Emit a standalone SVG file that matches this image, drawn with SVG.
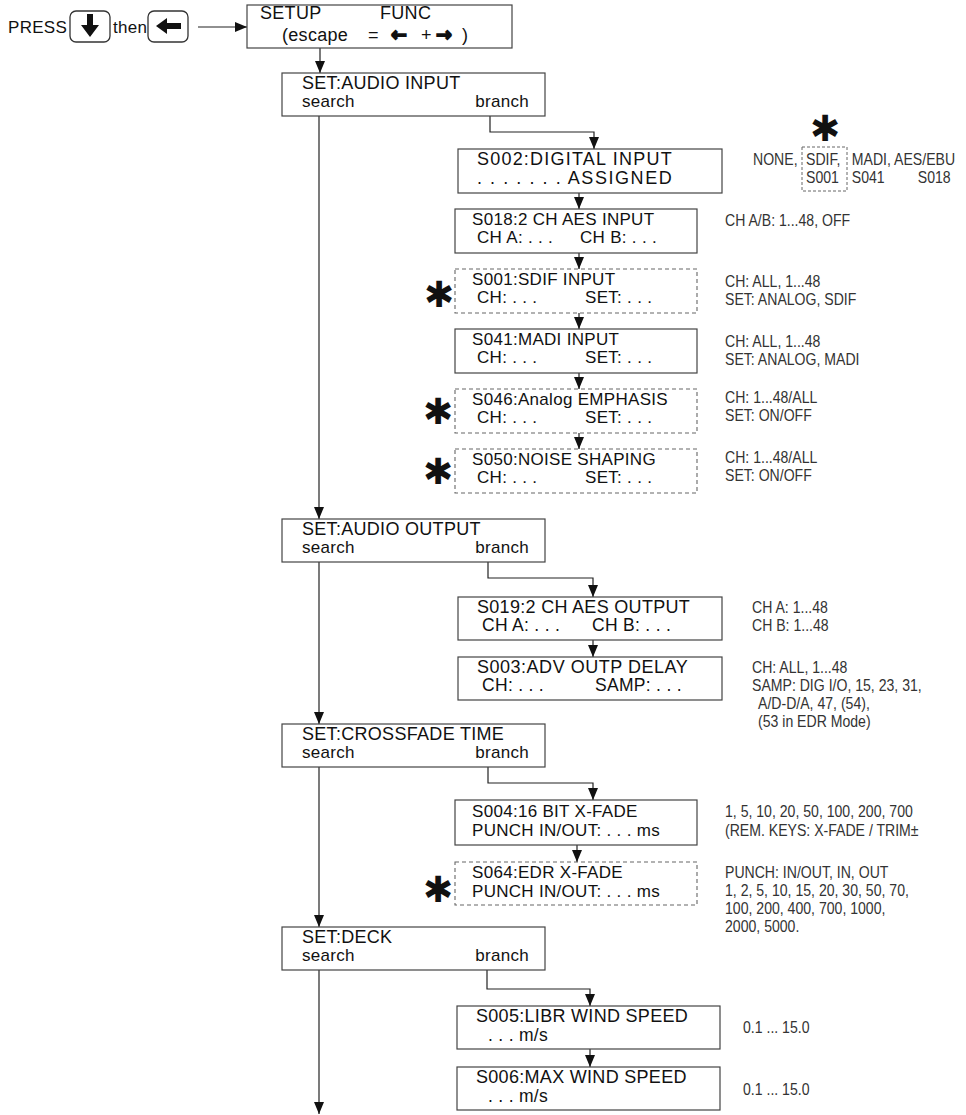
<svg xmlns="http://www.w3.org/2000/svg" width="966" height="1115" viewBox="0 0 966 1115">
<defs>
<marker id="ah" viewBox="0 0 12 10" refX="12" refY="5" markerWidth="12" markerHeight="10" orient="auto" markerUnits="userSpaceOnUse"><path d="M0,0 L12,5 L0,10 z" fill="#111"/></marker>
<style>
.box{fill:#fff;stroke:#444;stroke-width:1.2}
.dbox{fill:#fff;stroke:#666;stroke-width:1.1;stroke-dasharray:4 3}
.key{fill:#fff;stroke:#333;stroke-width:1.3}
.t{font-family:"Liberation Sans",Arial,sans-serif;font-size:17px;letter-spacing:0.3px;fill:#111}
.tw{font-family:"Liberation Sans",Arial,sans-serif;font-size:18px;letter-spacing:0.3px;fill:#111}
.t2{font-family:"Liberation Sans",Arial,sans-serif;font-size:17.5px;letter-spacing:0.3px;fill:#111}
.n{font-family:"Liberation Sans",Arial,sans-serif;font-size:16px;fill:#333}
.ast{font-family:"DejaVu Sans",sans-serif;font-size:36px;font-weight:bold;fill:#111}
.arw{font-family:"DejaVu Sans",sans-serif;font-size:19px;font-weight:bold;stroke:#111;stroke-width:1.6}
.ca{fill:none;stroke:#222;stroke-width:1.2;marker-end:url(#ah)}
</style>
</defs>
<rect width="966" height="1115" fill="#fff"/>

<g id="press">
<text class="t" x="8" y="33">PRESS</text>
<rect class="key" x="70" y="11" width="40" height="31" rx="6"/>
<polygon points="87,14 93,14 93,25 99,25 90,37 81,25 87,25" fill="#111"/>
<text class="t" x="113" y="33">then</text>
<rect class="key" x="148" y="11" width="40" height="31" rx="6"/>
<polygon points="156,26 167,18 167,23 181,23 181,29 167,29 167,34" fill="#111"/>
</g>

<g id="connectors">
<path class="ca" d="M198,27 H247"/>
<path class="ca" d="M320,48 V73"/>
<path class="ca" d="M319,116 V519"/>
<path class="ca" d="M319,562 V724"/>
<path class="ca" d="M319,767 V927"/>
<path class="ca" d="M319,970 V1114"/>
<path class="ca" d="M490,116 V132 H594 V149"/>
<path class="ca" d="M579,193 V209"/>
<path class="ca" d="M579,253 V269"/>
<path class="ca" d="M579,313 V329"/>
<path class="ca" d="M579,373 V389"/>
<path class="ca" d="M579,433 V449"/>
<path class="ca" d="M488,562 V578 H593 V597"/>
<path class="ca" d="M593,640 V657"/>
<path class="ca" d="M488,767 V783 H593 V800"/>
<path class="ca" d="M577,845 V862"/>
<path class="ca" d="M487,970 V989 H590 V1006"/>
<path class="ca" d="M590,1049 V1067"/>
</g>

<g id="setup">
<rect class="box" x="247" y="5" width="265" height="43"/>
<text class="tw" x="260" y="19">SETUP</text>
<text class="tw" x="380" y="19">FUNC</text>
<text class="tw" y="41"><tspan x="282">(escape</tspan><tspan x="368">=</tspan><tspan class="arw" x="391">←</tspan><tspan x="421">+</tspan><tspan class="arw" x="436">→</tspan><tspan x="462">)</tspan></text>
</g>

<g id="set-audio-input">
<rect class="box" x="282" y="73" width="263" height="43"/>
<text class="tw" x="302" y="89">SET:AUDIO INPUT</text>
<text class="t" x="302" y="107">search</text>
<text class="t" x="529" y="107" text-anchor="end">branch</text>
</g>

<g id="s002">
<rect class="box" x="458" y="149" width="264" height="44"/>
<text class="tw" x="477" y="165" textLength="195" lengthAdjust="spacing">S002:DIGITAL INPUT</text>
<text class="tw" x="477" y="184" textLength="195" lengthAdjust="spacing">. . . . . . .  ASSIGNED</text>
<text class="ast" x="825" y="141" text-anchor="middle">✱</text>
<rect x="802" y="147" width="45" height="44" fill="none" stroke="#666" stroke-width="1" stroke-dasharray="3 2"/>
<g class="n" transform="scale(0.88,1)">
<text x="855.7" y="165">NONE,</text>
<text x="916" y="165">SDIF,</text>
<text x="968" y="165">MADI, AES/EBU</text>
<text x="916" y="183">S001</text>
<text x="968" y="183">S041</text>
<text x="1043" y="183">S018</text>
</g>
</g>

<g id="s018">
<rect class="box" x="455" y="209" width="242" height="44"/>
<text class="t" x="472" y="225">S018:2 CH AES INPUT</text>
<text class="t" x="477" y="243">CH A: . . .</text>
<text class="t" x="580" y="243">CH B: . . .</text>
<text class="n" transform="translate(725,226) scale(0.88,1)">CH A/B: 1...48, OFF</text>
</g>

<g id="s001">
<rect class="dbox" x="455" y="269" width="242" height="44"/>
<text class="ast" x="439" y="307" text-anchor="middle">✱</text>
<text class="t" x="472" y="285">S001:SDIF INPUT</text>
<text class="t" x="477" y="303">CH: . . .</text>
<text class="t" x="585" y="303">SET: . . .</text>
<text class="n" transform="translate(725,287) scale(0.88,1)">CH: ALL, 1...48</text>
<text class="n" transform="translate(725,305) scale(0.88,1)">SET: ANALOG, SDIF</text>
</g>

<g id="s041">
<rect class="box" x="455" y="329" width="242" height="44"/>
<text class="t" x="472" y="345">S041:MADI INPUT</text>
<text class="t" x="477" y="363">CH: . . .</text>
<text class="t" x="585" y="363">SET: . . .</text>
<text class="n" transform="translate(725,347) scale(0.88,1)">CH: ALL, 1...48</text>
<text class="n" transform="translate(725,365) scale(0.88,1)">SET: ANALOG, MADI</text>
</g>

<g id="s046">
<rect class="dbox" x="455" y="389" width="242" height="44"/>
<text class="ast" x="438" y="424" text-anchor="middle">✱</text>
<text class="t" x="472" y="405">S046:Analog EMPHASIS</text>
<text class="t" x="477" y="423">CH: . . .</text>
<text class="t" x="585" y="423">SET: . . .</text>
<text class="n" transform="translate(725,403) scale(0.88,1)">CH: 1...48/ALL</text>
<text class="n" transform="translate(725,421) scale(0.88,1)">SET: ON/OFF</text>
</g>

<g id="s050">
<rect class="dbox" x="455" y="449" width="242" height="44"/>
<text class="ast" x="438" y="484" text-anchor="middle">✱</text>
<text class="t" x="472" y="465">S050:NOISE SHAPING</text>
<text class="t" x="477" y="483">CH: . . .</text>
<text class="t" x="585" y="483">SET: . . .</text>
<text class="n" transform="translate(725,463) scale(0.88,1)">CH: 1...48/ALL</text>
<text class="n" transform="translate(725,481) scale(0.88,1)">SET: ON/OFF</text>
</g>

<g id="set-audio-output">
<rect class="box" x="282" y="519" width="263" height="43"/>
<text class="tw" x="302" y="535">SET:AUDIO OUTPUT</text>
<text class="t" x="302" y="553">search</text>
<text class="t" x="529" y="553" text-anchor="end">branch</text>
</g>

<g id="s019">
<rect class="box" x="458" y="597" width="264" height="43"/>
<text class="tw" x="477" y="613">S019:2 CH AES OUTPUT</text>
<text class="t2" x="482" y="631">CH A: . . .</text>
<text class="t2" x="592" y="631">CH B: . . .</text>
<text class="n" transform="translate(752,613) scale(0.88,1)">CH A: 1...48</text>
<text class="n" transform="translate(752,631) scale(0.88,1)">CH B: 1...48</text>
</g>

<g id="s003">
<rect class="box" x="458" y="657" width="264" height="43"/>
<text class="tw" x="477" y="673" textLength="211" lengthAdjust="spacing">S003:ADV OUTP DELAY</text>
<text class="t2" x="482" y="691">CH: . . .</text>
<text class="t2" x="595" y="691">SAMP: . . .</text>
<text class="n" transform="translate(752,673) scale(0.88,1)">CH: ALL, 1...48</text>
<text class="n" transform="translate(752,691) scale(0.88,1)">SAMP: DIG I/O, 15, 23, 31,</text>
<text class="n" transform="translate(758,709) scale(0.88,1)">A/D-D/A, 47, (54),</text>
<text class="n" transform="translate(758,727) scale(0.88,1)">(53 in EDR Mode)</text>
</g>

<g id="set-crossfade">
<rect class="box" x="282" y="724" width="263" height="43"/>
<text class="tw" x="302" y="740">SET:CROSSFADE TIME</text>
<text class="t" x="302" y="758">search</text>
<text class="t" x="529" y="758" text-anchor="end">branch</text>
</g>

<g id="s004">
<rect class="box" x="455" y="800" width="242" height="45"/>
<text class="t" x="472" y="817">S004:16 BIT X-FADE</text>
<text class="t" x="472" y="836">PUNCH IN/OUT:  . . . ms</text>
<text class="n" transform="translate(725,817) scale(0.88,1)">1, 5, 10, 20, 50, 100, 200, 700</text>
<text class="n" transform="translate(725,836) scale(0.88,1)">(REM. KEYS: X-FADE / TRIM±</text>
</g>

<g id="s064">
<rect class="dbox" x="455" y="862" width="242" height="43"/>
<text class="ast" x="438" y="902" text-anchor="middle">✱</text>
<text class="t" x="472" y="878">S064:EDR X-FADE</text>
<text class="t" x="472" y="897">PUNCH IN/OUT:  . . . ms</text>
<text class="n" transform="translate(725,878) scale(0.88,1)">PUNCH: IN/OUT, IN, OUT</text>
<text class="n" transform="translate(725,896) scale(0.88,1)">1, 2, 5, 10, 15, 20, 30, 50, 70,</text>
<text class="n" transform="translate(725,914) scale(0.88,1)">100, 200, 400, 700, 1000,</text>
<text class="n" transform="translate(725,932) scale(0.88,1)">2000, 5000.</text>
</g>

<g id="set-deck">
<rect class="box" x="282" y="927" width="263" height="43"/>
<text class="tw" x="302" y="943">SET:DECK</text>
<text class="t" x="302" y="961">search</text>
<text class="t" x="529" y="961" text-anchor="end">branch</text>
</g>

<g id="s005">
<rect class="box" x="457" y="1006" width="263" height="43"/>
<text class="tw" x="476" y="1022">S005:LIBR WIND SPEED</text>
<text class="t2" x="488" y="1041">. . . m/s</text>
<text class="n" transform="translate(743,1033) scale(0.88,1)">0.1 ... 15.0</text>
</g>

<g id="s006">
<rect class="box" x="457" y="1067" width="263" height="43"/>
<text class="tw" x="476" y="1083">S006:MAX WIND SPEED</text>
<text class="t2" x="488" y="1102">. . . m/s</text>
<text class="n" transform="translate(743,1095) scale(0.88,1)">0.1 ... 15.0</text>
</g>
</svg>
